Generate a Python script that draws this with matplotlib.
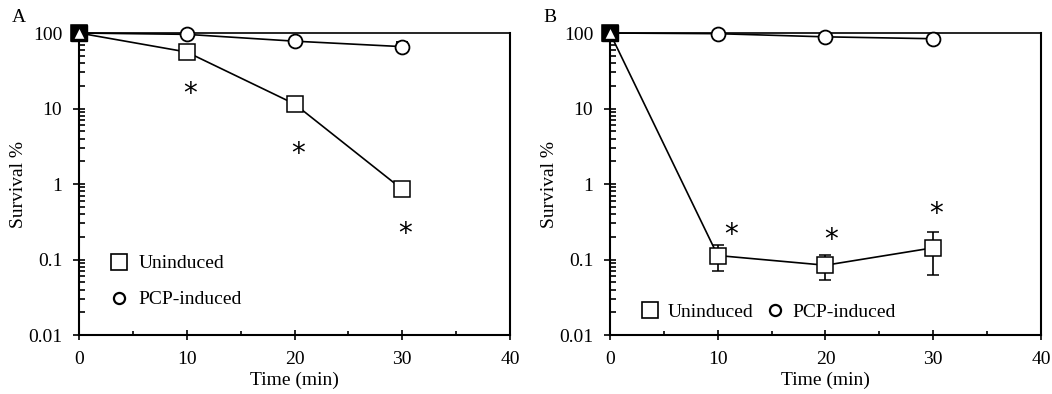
import matplotlib.pyplot as plt
from matplotlib.lines import Line2D
from matplotlib.ticker import FixedLocator, LogLocator, NullFormatter, MultipleLocator

plt.rcParams['font.family'] = ['Liberation Serif']

time = [0, 10, 20, 30]

# panel A
a_unind = [100, 56, 11.5, 0.85]
a_pcp = [100, 96, 78, 66]
a_pcp_err = [0, 0, 0, 9]
a_star_x = [10.3, 20.3, 30.3]
a_star_y = [15.5, 2.5, 0.22]

# panel B
b_unind = [100, 0.113, 0.084, 0.143]
b_unind_lo = [0, 0.042, 0.031, 0.08]
b_unind_hi = [0, 0.045, 0.032, 0.085]
b_pcp = [100, 98, 89, 84]
b_star_x = [11.2, 20.5, 30.3]
b_star_y = [0.21, 0.18, 0.40]

ytick_vals = [0.01, 0.1, 1, 10, 100]
ytick_labels = ['0.01', '0.1', '1', '10', '100']

fig = plt.figure(figsize=(10.52, 3.94), dpi=100)
axA = fig.add_axes([0.0751, 0.1497, 0.4097, 0.7665])
axB = fig.add_axes([0.5798, 0.1497, 0.4097, 0.7665])

FS = 14


def style(ax):
    ax.set_yscale('log')
    ax.set_xlim(0, 40)
    ax.set_ylim(0.01, 100)
    ax.yaxis.set_major_locator(FixedLocator(ytick_vals))
    ax.set_yticklabels(ytick_labels)
    ax.yaxis.set_minor_locator(LogLocator(base=10, subs=range(2, 10)))
    ax.yaxis.set_minor_formatter(NullFormatter())
    ax.xaxis.set_major_locator(MultipleLocator(10))
    ax.xaxis.set_minor_locator(MultipleLocator(5))
    for s in ax.spines.values():
        s.set_linewidth(1.5)
    ax.spines['top'].set_linewidth(1.2)
    ax.spines['right'].set_linewidth(1.5)
    ax.tick_params(axis='x', which='major', direction='inout', length=7, width=1.2, labelsize=FS, pad=8)
    ax.tick_params(axis='x', which='minor', direction='in', length=3, width=1.2)
    ax.tick_params(axis='y', which='major', direction='inout', length=8, width=1.2, labelsize=FS, pad=8)
    ax.tick_params(axis='y', which='minor', direction='in', length=4, width=1.2)
    ax.set_xlabel('Time (min)', fontsize=FS, labelpad=3)
    ax.set_ylabel('Survival %', fontsize=FS, labelpad=1)


def start_marks(ax):
    ax.plot([0], [100], marker='s', ms=12, mfc='black', mec='black', ls='none', zorder=5, clip_on=False)
    ax.plot([0], [100], marker='^', ms=8, mfc='white', mec='black', mew=1, ls='none', zorder=6, clip_on=False)


sq = Line2D([], [], marker='s', ms=11, mfc='white', mec='black', mew=1.2, ls='none')
ci = Line2D([], [], marker='o', ms=8, mfc='white', mec='black', mew=1.6, ls='none')

# A
style(axA)
axA.errorbar(time, a_pcp, yerr=a_pcp_err, color='black', lw=1.2, marker='o', ms=10,
             mfc='white', mec='black', mew=1.3, capsize=4, zorder=3, clip_on=False)
axA.plot(time, a_unind, color='black', lw=1.2, marker='s', ms=12, mfc='white', mec='black',
         mew=1.1, zorder=4, clip_on=False)
start_marks(axA)
for x, y in zip(a_star_x, a_star_y):
    axA.text(x, y, '*', fontsize=20, ha='center', va='center', fontfamily='DejaVu Sans')
axA.legend([sq, ci], ['Uninduced', 'PCP-induced'], loc='lower left', bbox_to_anchor=(0.03, 0.03),
           frameon=False, fontsize=FS, handlelength=1.0, handletextpad=0.5, labelspacing=0.95)
axA.text(-0.155, 1.05, 'A', transform=axA.transAxes, fontsize=FS, va='center')

# B
style(axB)
axB.plot(time, b_pcp, color='black', lw=1.2, marker='o', ms=10, mfc='white', mec='black',
         mew=1.3, zorder=3, clip_on=False)
axB.errorbar(time, b_unind, yerr=[b_unind_lo, b_unind_hi], color='black', lw=1.2, marker='s',
             ms=12, mfc='white', mec='black', mew=1.1, capsize=4, zorder=4, clip_on=False)
start_marks(axB)
for x, y in zip(b_star_x, b_star_y):
    axB.text(x, y, '*', fontsize=20, ha='center', va='center', fontfamily='DejaVu Sans')
axB.legend([sq, ci], ['Uninduced', 'PCP-induced'], loc='lower left', bbox_to_anchor=(0.03, -0.01),
           frameon=False, fontsize=FS, ncol=2, handlelength=1.0, handletextpad=0.4,
           columnspacing=0.6)
axB.text(-0.155, 1.05, 'B', transform=axB.transAxes, fontsize=FS, va='center')

fig.savefig('out.png', dpi=100)
